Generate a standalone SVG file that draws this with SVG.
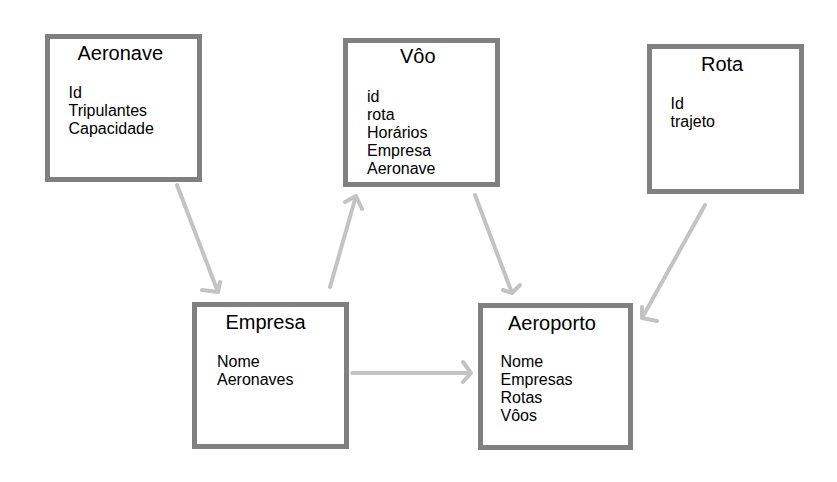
<svg xmlns="http://www.w3.org/2000/svg" width="837" height="482" viewBox="0 0 837 482">
<style>
.box{fill:#fff;stroke:#808080;stroke-width:5}
.t{font-family:"Liberation Sans",Arial,sans-serif;font-size:20px;fill:#000}
.i{font-family:"Liberation Sans",Arial,sans-serif;font-size:16px;fill:#000}
.c{fill:none;stroke:#c3c3c3;stroke-width:4;stroke-linecap:round;stroke-linejoin:round}
</style>
<rect width="837" height="482" fill="#fff"/>
<g id="connectors">
<path class="c" d="M177,185 L218,292 M202,290 L218,292 L220,282"/>
<path class="c" d="M330,287 L356,196 M345,202 L356,196 L362,209"/>
<path class="c" d="M352,373 L471,373 M463,362 L471,373 L463,382"/>
<path class="c" d="M475,195 L512,293 M503,290 L512,293 L520,285"/>
<path class="c" d="M705,205 L642,318 M642,307 L642,318 L657,321"/>
</g>
<g id="aeronave">
<rect class="box" x="47.5" y="36.5" width="152" height="143"/>
<text class="t" x="77.5" y="60">Aeronave</text>
<text class="i" x="68.5" y="97.5">Id</text>
<text class="i" x="68.5" y="115.5">Tripulantes</text>
<text class="i" x="68.5" y="133.5">Capacidade</text>
</g>
<g id="voo">
<rect class="box" x="345.5" y="40.5" width="152" height="144"/>
<text class="t" x="400" y="63">Vôo</text>
<text class="i" x="367" y="102">id</text>
<text class="i" x="367" y="120">rota</text>
<text class="i" x="367" y="138">Horários</text>
<text class="i" x="367" y="156">Empresa</text>
<text class="i" x="367" y="174">Aeronave</text>
</g>
<g id="rota">
<rect class="box" x="649.5" y="46.5" width="152" height="145"/>
<text class="t" x="701" y="71">Rota</text>
<text class="i" x="670.5" y="108.5">Id</text>
<text class="i" x="670.5" y="126.5">trajeto</text>
</g>
<g id="empresa">
<rect class="box" x="194.5" y="304.5" width="152" height="142"/>
<text class="t" x="225.5" y="328.5">Empresa</text>
<text class="i" x="217" y="366.5">Nome</text>
<text class="i" x="217" y="384.5">Aeronaves</text>
</g>
<g id="aeroporto">
<rect class="box" x="480.5" y="305.5" width="150" height="142"/>
<text class="t" x="508" y="329.5">Aeroporto</text>
<text class="i" x="500.5" y="367">Nome</text>
<text class="i" x="500.5" y="385">Empresas</text>
<text class="i" x="500.5" y="403">Rotas</text>
<text class="i" x="500.5" y="421">Vôos</text>
</g>
</svg>
